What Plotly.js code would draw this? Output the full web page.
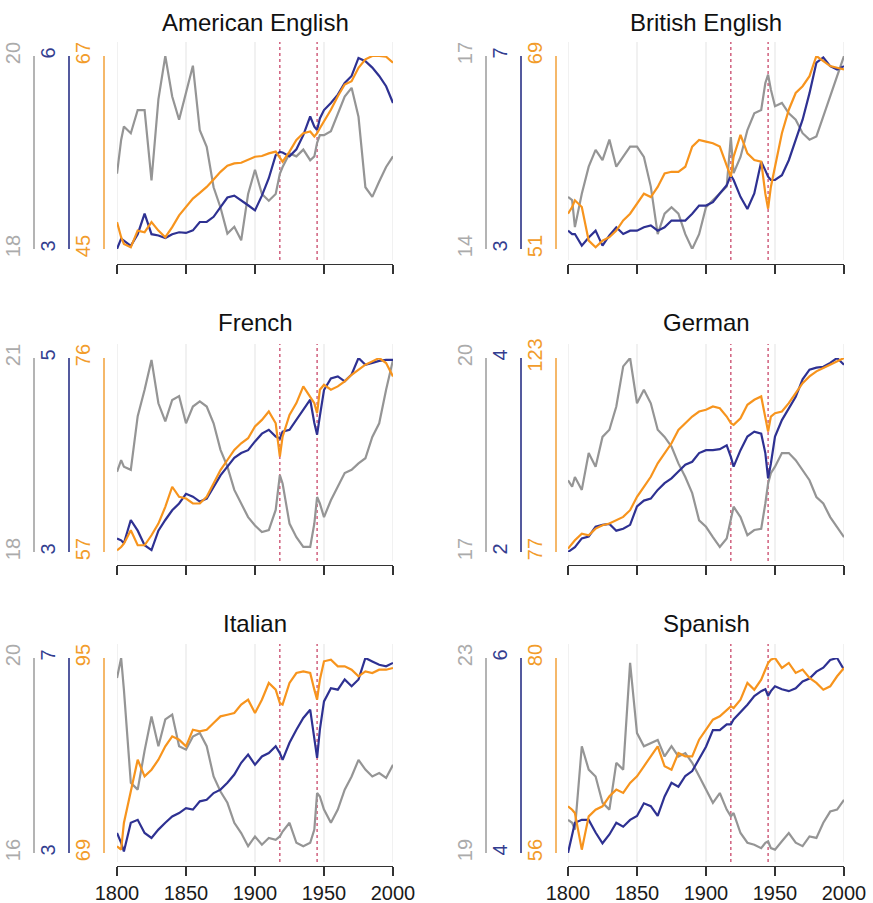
<!DOCTYPE html>
<html><head><meta charset="utf-8">
<script src="https://cdn.plot.ly/plotly-3.0.1.min.js"></script>
<style>html,body{margin:0;padding:0;background:#fff}</style>
</head><body>
<div id="chart" style="width:873px;height:903px"></div>
<script>
// ---------- DATA ----------
const years = [1800,1803,1805,1810,1815,1820,1825,1830,1835,1840,1845,1850,1855,1860,1865,1870,1875,1880,1885,1890,1895,1900,1905,1910,1915,1918,1920,1925,1930,1935,1940,1943,1945,1947,1950,1955,1960,1965,1970,1975,1980,1985,1990,1995,2000];
const languages = ['American English','British English','French','German','Italian','Spanish'];
const grayRanges   = [[18,20],[14,17],[18,21],[17,20],[16,20],[19,23]];
const blueRanges   = [[3,6],[3,7],[3,5],[2,4],[3,7],[4,6]];
const orangeRanges = [[45,67],[51,69],[57,76],[77,123],[69,95],[56,80]];
const xTicks = [1800,1850,1900,1950,2000];
const warYears = [1918,1945];

const amGray = [18.78,19.13,19.27,19.20,19.44,19.44,18.71,19.55,20.00,19.58,19.34,19.62,19.90,19.23,19.06,18.64,18.43,18.16,18.23,18.09,18.57,18.82,18.57,18.50,18.57,18.78,18.85,18.99,18.96,19.03,18.92,18.96,19.10,19.18,19.18,19.22,19.41,19.58,19.67,19.37,18.64,18.54,18.70,18.85,18.96];
const amBlue = [3.00,3.16,3.13,3.05,3.23,3.55,3.23,3.21,3.17,3.23,3.26,3.25,3.29,3.42,3.42,3.50,3.65,3.80,3.83,3.76,3.68,3.60,3.83,4.10,4.46,4.51,4.50,4.44,4.55,4.77,5.06,4.90,4.85,5.03,5.16,5.27,5.40,5.58,5.69,5.97,5.92,5.82,5.69,5.53,5.27];
const amOrange = [48.06,46.34,45.57,45.19,47.10,46.91,48.06,47.10,46.34,47.49,48.83,49.78,50.74,51.39,52.08,52.92,53.80,54.49,54.76,54.83,55.14,55.52,55.60,55.90,56.10,55.33,54.95,56.10,57.43,58.20,58.39,57.82,58.20,58.77,59.54,60.88,62.41,63.75,64.13,65.66,66.62,67.00,67.00,66.92,66.23];

const brGray = [14.81,14.76,14.34,14.86,15.28,15.54,15.38,15.70,15.28,15.43,15.59,15.59,15.43,14.97,14.23,14.55,14.65,14.55,14.23,14.00,14.23,14.65,14.76,14.86,14.97,15.74,15.18,15.43,15.85,16.11,16.16,16.58,16.71,16.48,16.22,16.27,16.11,16.01,15.80,15.70,15.75,16.06,16.37,16.69,17.00];
const brBlue = [3.38,3.31,3.31,3.07,3.24,3.38,3.07,3.28,3.45,3.31,3.38,3.38,3.45,3.49,3.38,3.45,3.59,3.59,3.59,3.73,3.90,3.90,3.97,4.15,4.32,4.53,4.43,4.08,3.83,4.15,4.81,4.63,4.50,4.43,4.43,4.53,4.84,5.26,5.68,6.23,6.86,6.97,6.79,6.72,6.79];
const brOrange = [54.29,54.91,55.54,54.91,51.78,51.16,51.78,52.10,52.72,53.66,54.29,55.23,56.16,55.85,56.79,58.04,58.20,58.20,58.67,60.55,61.17,61.02,60.86,60.55,58.67,57.73,59.61,61.64,59.92,59.29,59.14,56.16,54.76,56.79,58.67,61.80,63.99,65.55,66.18,67.12,69.00,68.53,68.06,67.90,67.75];

const frGray = [19.24,19.42,19.32,19.27,20.10,20.51,20.97,20.30,20.02,20.35,20.41,19.99,20.25,20.33,20.25,19.99,19.58,19.32,18.96,18.75,18.54,18.41,18.31,18.34,18.65,19.19,19.06,18.44,18.23,18.08,18.08,18.44,18.85,18.75,18.54,18.80,19.01,19.22,19.27,19.37,19.45,19.78,19.99,20.51,20.97];
const frBlue = [3.14,3.12,3.09,3.33,3.22,3.07,3.02,3.22,3.33,3.43,3.50,3.60,3.57,3.52,3.55,3.67,3.79,3.88,3.97,4.02,4.05,4.14,4.22,4.26,4.19,4.17,4.24,4.26,4.36,4.47,4.57,4.33,4.21,4.40,4.67,4.79,4.81,4.76,4.83,5.00,4.93,4.95,4.97,4.98,4.98];
const frOrange = [57.16,57.49,57.82,59.13,57.66,57.66,58.64,59.78,61.42,63.39,62.41,62.24,61.75,61.75,62.41,63.72,65.03,66.01,66.99,67.65,68.14,69.29,69.94,70.76,69.61,66.34,68.30,70.43,71.58,73.22,72.23,71.58,70.60,72.89,73.38,72.89,73.22,73.71,74.36,74.85,75.35,75.67,76.00,75.51,74.20];

const deGray = [18.11,18.01,18.16,17.96,18.53,18.32,18.78,18.89,19.25,19.87,20.00,19.30,19.51,19.30,18.89,18.78,18.63,18.37,18.16,17.91,17.49,17.39,17.23,17.08,17.21,17.54,17.70,17.54,17.26,17.34,17.36,17.75,18.06,18.22,18.32,18.53,18.53,18.42,18.27,18.11,17.85,17.75,17.54,17.39,17.23];
const deBlue = [2.00,2.03,2.05,2.14,2.16,2.26,2.28,2.29,2.22,2.24,2.28,2.47,2.53,2.55,2.64,2.71,2.76,2.83,2.90,2.93,3.02,3.05,3.05,3.06,3.10,2.98,2.88,3.05,3.19,3.24,3.22,3.02,2.76,2.91,3.19,3.36,3.48,3.60,3.78,3.88,3.90,3.91,3.95,4.00,3.93];
const deOrange = [77.79,78.98,79.78,81.36,80.97,82.55,83.34,83.74,84.53,85.33,86.91,90.09,92.47,94.84,98.02,100.40,102.78,105.95,107.53,109.12,110.31,110.71,111.50,111.10,109.12,107.53,107.14,108.72,111.90,113.09,113.88,108.33,105.55,109.12,109.91,110.31,112.29,114.67,117.05,118.64,119.83,120.62,121.41,122.21,123.00];

const itGray = [19.59,20.00,19.35,17.44,17.30,18.10,18.80,18.19,18.74,18.84,18.19,18.12,18.39,18.46,18.19,17.57,17.26,17.03,16.62,16.41,16.14,16.34,16.17,16.31,16.27,16.34,16.44,16.62,16.21,16.14,16.21,16.48,17.23,17.16,16.89,16.62,16.89,17.30,17.57,17.91,17.71,17.57,17.64,17.54,17.81];
const itBlue = [3.41,3.21,3.03,3.62,3.68,3.41,3.31,3.48,3.62,3.75,3.82,3.92,3.89,4.06,4.09,4.23,4.30,4.44,4.61,4.85,5.02,4.81,4.98,5.05,5.19,5.05,4.91,5.26,5.53,5.77,5.94,5.39,4.95,5.53,6.11,6.38,6.35,6.56,6.42,6.56,7.00,6.93,6.86,6.83,6.90];
const itOrange = [69.89,69.44,73.00,77.44,81.44,79.22,80.11,81.44,83.22,84.56,84.11,83.22,85.44,85.22,85.44,86.33,87.22,87.44,87.67,88.78,89.44,87.67,89.44,91.67,90.78,89.00,88.78,91.67,93.00,93.22,93.00,90.78,89.44,92.11,94.56,94.78,93.89,93.89,93.44,92.56,93.22,93.00,93.44,93.44,93.67];

const esGray = [19.68,19.62,19.48,21.19,20.71,20.57,20.03,19.89,20.85,20.71,22.90,21.46,21.19,21.26,21.32,20.98,21.19,20.98,21.05,20.85,20.57,20.30,20.03,20.23,19.89,19.75,19.82,19.41,19.21,19.17,19.10,19.21,19.24,19.10,19.07,19.24,19.41,19.21,19.14,19.34,19.31,19.62,19.85,19.89,20.09];
const esBlue = [4.00,4.17,4.31,4.34,4.34,4.21,4.10,4.19,4.31,4.27,4.34,4.38,4.51,4.48,4.38,4.58,4.72,4.68,4.79,4.84,4.96,5.09,5.26,5.26,5.32,5.32,5.37,5.44,5.52,5.61,5.66,5.68,5.61,5.66,5.71,5.68,5.66,5.69,5.76,5.79,5.86,5.90,5.98,6.00,5.88];
const esOrange = [61.74,61.33,60.92,56.41,60.51,61.33,61.74,62.98,63.80,63.39,64.62,65.44,66.67,67.90,69.13,66.67,66.26,68.31,67.90,67.90,69.95,71.18,72.41,72.82,73.64,74.05,73.85,74.87,76.93,76.10,77.34,78.57,79.39,79.80,80.00,78.77,79.39,78.16,78.57,77.54,76.93,76.10,76.52,77.75,78.77];

const grayData   = [amGray, brGray, frGray, deGray, itGray, esGray];
const blueData   = [amBlue, brBlue, frBlue, deBlue, itBlue, esBlue];
const orangeData = [amOrange, brOrange, frOrange, deOrange, itOrange, esOrange];

// ---------- STYLE / GEOMETRY ----------
const W = 873, H = 903;
const FONT = 'Liberation Sans, Arial, Helvetica, sans-serif';
const colX0 = [117, 568], colX1 = [393, 844];
const rowTop = [56, 358, 658], rowBot = [249, 552, 853];
const axisLineY = [264, 565, 866];
const titleY = [22, 323, 623];
const axisPosX = [[33, 68, 103], [485, 520, 555]];
const lineCol  = {gray:'#959595', blue:'#2e3192', orange:'#f7941d'};
const axCol    = {gray:'#b4b4b4', blue:'#545a9e', orange:'#f5b86a'};
const lblCol   = {gray:'#ababab', blue:'#333d8f', orange:'#f29c2b'};
const px = x => x / W;
const py = y => 1 - y / H;

const traces = [];
const layout = {
  width: W, height: H,
  margin: {l:0, r:0, t:0, b:0},
  paper_bgcolor: '#fff', plot_bgcolor: 'rgba(0,0,0,0)',
  showlegend: false,
  font: {family: FONT},
  shapes: [], annotations: []
};

for (let i = 0; i < 6; i++) {
  const row = Math.floor(i / 2), col = i % 2;
  const xn = i + 1;
  const xName = 'x' + (xn === 1 ? '' : xn);
  const yIdx = [3*i+1, 3*i+2, 3*i+3];
  const yNames = yIdx.map(k => 'y' + (k === 1 ? '' : k));
  const xDomain = [px(colX0[col]), px(colX1[col])];
  const yDomain = [py(rowBot[row]), py(rowTop[row])];

  layout['xaxis' + (xn === 1 ? '' : xn)] = {
    domain: xDomain, range: [1800, 2000], anchor: 'free', position: py(axisLineY[row]),
    showline: true, linecolor: '#333', linewidth: 1.3,
    ticks: 'outside', ticklen: 9, tickwidth: 1.3, tickcolor: '#333',
    tickmode: 'array', tickvals: xTicks, ticktext: xTicks.map(String),
    showticklabels: row === 2, tickfont: {size: 20, color: '#1a1a1a', family: FONT},
    showgrid: false, zeroline: false, fixedrange: true
  };

  const series = [
    {key:'gray',   data: grayData[i],   rng: grayRanges[i]},
    {key:'blue',   data: blueData[i],   rng: blueRanges[i]},
    {key:'orange', data: orangeData[i], rng: orangeRanges[i]}
  ];
  series.forEach((s, j) => {
    const ax = {
      range: s.rng, anchor: 'free', position: px(axisPosX[col][j]), side: 'left',
      showline: true, linecolor: axCol[s.key], linewidth: 1.6,
      ticks: '', tickmode: 'array', tickvals: s.rng, ticktext: s.rng.map(String),
      tickangle: -90, ticklabelstandoff: 5,
      tickfont: {size: 20, color: lblCol[s.key], family: FONT},
      showgrid: false, zeroline: false, fixedrange: true
    };
    if (j === 0) ax.domain = yDomain; else ax.overlaying = yNames[0];
    layout['yaxis' + (yIdx[j] === 1 ? '' : yIdx[j])] = ax;
  });

  // draw order: gray, orange, blue
  [0, 2, 1].forEach(j => {
    const s = series[j];
    traces.push({
      type: 'scatter', mode: 'lines', x: years, y: s.data,
      xaxis: xName, yaxis: yNames[j],
      line: {color: lineCol[s.key], width: 2.2}, hoverinfo: 'skip'
    });
  });

  xTicks.forEach(t => layout.shapes.push({
    type: 'line', xref: xName, yref: 'paper', x0: t, x1: t,
    y0: py(axisLineY[row] - 4), y1: py(rowTop[row] - 14),
    line: {color: '#e3e3e3', width: 1}, layer: 'below'
  }));
  warYears.forEach(t => layout.shapes.push({
    type: 'line', xref: xName, yref: 'paper', x0: t, x1: t,
    y0: py(axisLineY[row] - 4), y1: py(rowTop[row] - 14),
    line: {color: '#c9486a', width: 1.3, dash: 'dot'}, layer: 'below'
  }));

  layout.annotations.push({
    xref: 'paper', yref: 'paper', x: px((colX0[col] + colX1[col]) / 2), y: py(titleY[row]),
    xanchor: 'center', yanchor: 'middle', showarrow: false,
    text: languages[i], font: {size: 24, color: '#111', family: FONT}
  });
}

Plotly.newPlot('chart', traces, layout, {staticPlot: true, displayModeBar: false});
</script>
</body></html>
